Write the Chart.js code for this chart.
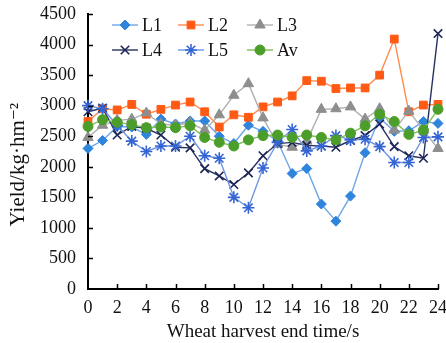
<!DOCTYPE html>
<html>
<head>
<meta charset="utf-8">
<script src="https://cdn.jsdelivr.net/npm/chart.js@4/dist/chart.umd.min.js"></script>
<style>
html,body{margin:0;padding:0;background:#fff;}
#c{display:block;}
</style>
</head>
<body>
<canvas id="c" width="446" height="343"></canvas>
<script>
const times = [0,1,2,3,4,5,6,7,8,9,10,11,12,13,14,15,16,17,18,19,20,21,22,23,24];
const seriesNames = ['L1','L2','L3','L4','L5','Av'];
const L1 = [2300,2430,2660,2650,2530,2780,2700,2750,2750,2500,2380,2680,2580,2420,1890,1970,1390,1110,1520,2230,2800,2580,2590,2740,2710];
const L2 = [2740,2950,2930,3020,2860,2940,3010,3060,2900,2650,2850,2810,2980,3060,3160,3410,3400,3280,3290,3290,3500,4090,2900,3010,3020];
const L3 = [2480,2680,2760,2780,2880,2700,2680,2720,2600,2850,3170,3360,2800,2370,2320,2420,2940,2950,2980,2780,2950,2600,2910,2600,2300];
const L4 = [2900,2960,2520,2660,2630,2520,2320,2310,1970,1850,1710,1900,2180,2380,2400,2350,2340,2320,2430,2510,2700,2330,2180,2140,4180];
const L5 = [3000,2950,2680,2420,2250,2340,2340,2500,2180,2140,1500,1330,1980,2400,2610,2260,2340,2510,2440,2450,2330,2070,2070,2480,2490];
const Av = [2660,2770,2730,2690,2640,2650,2640,2670,2480,2400,2340,2440,2510,2520,2480,2520,2480,2440,2550,2670,2860,2740,2530,2600,2940];
const xTicks = [0,2,4,6,8,10,12,14,16,18,20,22,24];
const yTicks = [0,500,1000,1500,2000,2500,3000,3500,4000,4500];

const FONT = "'Liberation Serif', 'DejaVu Serif', serif";

const styles = [
  {line:'#6FA6E6', fill:'#2F84DC', stroke:'#2F84DC', ps:'rectRot', r:5},
  {line:'#FF8A4C', fill:'#FF5A14', stroke:'#FF5A14', ps:'rect', r:5.5},
  {line:'#B0B0B0', fill:'#8E8E8E', stroke:'#8E8E8E', ps:'triangle', r:6},
  {line:'#27315F', fill:'#1B2456', stroke:'#1B2456', ps:'crossRot', r:6},
  {line:'#6E97E4', fill:'#3565D4', stroke:'#3565D4', ps:'star', r:6},
  {line:'#7DBF5A', fill:'#4C9E2A', stroke:'#4C9E2A', ps:'circle', r:5}
];
const allSeries = [L1,L2,L3,L4,L5,Av];

const datasets = allSeries.map((vals,i)=>({
  label: seriesNames[i],
  data: times.map((t,j)=>({x:t, y:vals[j]})),
  borderColor: styles[i].line,
  backgroundColor: styles[i].fill,
  pointBorderColor: styles[i].stroke,
  pointBackgroundColor: styles[i].fill,
  pointStyle: styles[i].ps,
  pointRadius: styles[i].r,
  pointBorderWidth: (styles[i].ps==='crossRot'||styles[i].ps==='star') ? 1.6 : 1,
  borderWidth: 1.4,
  tension: 0,
  clip: false,
  order: 6 - i
}));

const customPlugin = {
  id: 'custom',
  afterDraw(chart){
    const ctx = chart.ctx;
    const xs = chart.scales.x, ys = chart.scales.y;
    ctx.save();
    ctx.strokeStyle = '#000';
    ctx.lineWidth = 1.5;
    yTicks.forEach(v=>{
      if (v===0) return;
      const py = Math.round(ys.getPixelForValue(v)) + 0.5;
      ctx.beginPath(); ctx.moveTo(xs.left, py); ctx.lineTo(xs.left + 5, py); ctx.stroke();
    });
    xTicks.forEach(v=>{
      if (v===0) return;
      const px = Math.round(xs.getPixelForValue(v)) + 0.5;
      ctx.beginPath(); ctx.moveTo(px, ys.bottom); ctx.lineTo(px, ys.bottom - 5); ctx.stroke();
    });
    const colX = [112, 178, 247];
    const rowY = [25, 50];
    ctx.font = '18px ' + FONT;
    ctx.textBaseline = 'middle';
    ctx.textAlign = 'left';
    chart.data.datasets.forEach((ds,i)=>{
      const cx = colX[i%3], cy = rowY[Math.floor(i/3)];
      ctx.strokeStyle = ds.borderColor;
      ctx.lineWidth = 1.4;
      ctx.beginPath(); ctx.moveTo(cx, cy); ctx.lineTo(cx+26, cy); ctx.stroke();
      ctx.fillStyle = ds.pointBackgroundColor;
      ctx.strokeStyle = ds.pointBorderColor;
      ctx.lineWidth = ds.pointBorderWidth;
      Chart.helpers.drawPoint(ctx, {pointStyle: ds.pointStyle, radius: ds.pointRadius, rotation: 0, borderWidth: ds.pointBorderWidth}, cx+13, cy);
      ctx.fillStyle = '#111';
      ctx.fillText(ds.label, cx+30, cy+1);
    });
    ctx.restore();
  }
};

new Chart(document.getElementById('c'), {
  type: 'line',
  data: { datasets },
  options: {
    responsive: false,
    animation: false,
    events: [],
    layout: { padding: { top: 14, right: 8, left: 0, bottom: 0 } },
    plugins: { legend: {display:false}, tooltip: {enabled:false} },
    scales: {
      x: {
        type: 'linear', min: 0, max: 24,
        afterBuildTicks(s){ s.ticks = xTicks.map(v=>({value:v})); },
        afterFit(s){ s.height = 54; s.paddingLeft = 0; s.paddingRight = 0; },
        grid: { display: true, drawOnChartArea: false, drawTicks: false },
        border: { display: true, color: '#000', width: 2 },
        ticks: { color: '#111', font: { family: FONT, size: 18 }, padding: 8, maxRotation: 0, autoSkip: false,
                 callback: v => String(v) },
        title: { display: true, text: 'Wheat harvest end time/s', color: '#111', font: { family: FONT, size: 19 }, padding: {top:0, bottom:0} }
      },
      y: {
        type: 'linear', min: 0, max: 4500,
        afterBuildTicks(s){ s.ticks = yTicks.map(v=>({value:v})); },
        afterFit(s){ s.width = 88; s.paddingTop = 0; s.paddingBottom = 0; },
        grid: { display: true, drawOnChartArea: false, drawTicks: false },
        border: { display: true, color: '#000', width: 2 },
        ticks: { color: '#111', font: { family: FONT, size: 18 }, padding: 12, callback: v => String(v) },
        title: { display: true, text: 'Yield/kg·hm⁻²\u00A0\u00A0\u00A0\u00A0\u00A0', color: '#111', font: { family: FONT, size: 21 }, padding: {top:6, bottom:0} }
      }
    }
  },
  plugins: [customPlugin]
});
</script>
</body>
</html>
